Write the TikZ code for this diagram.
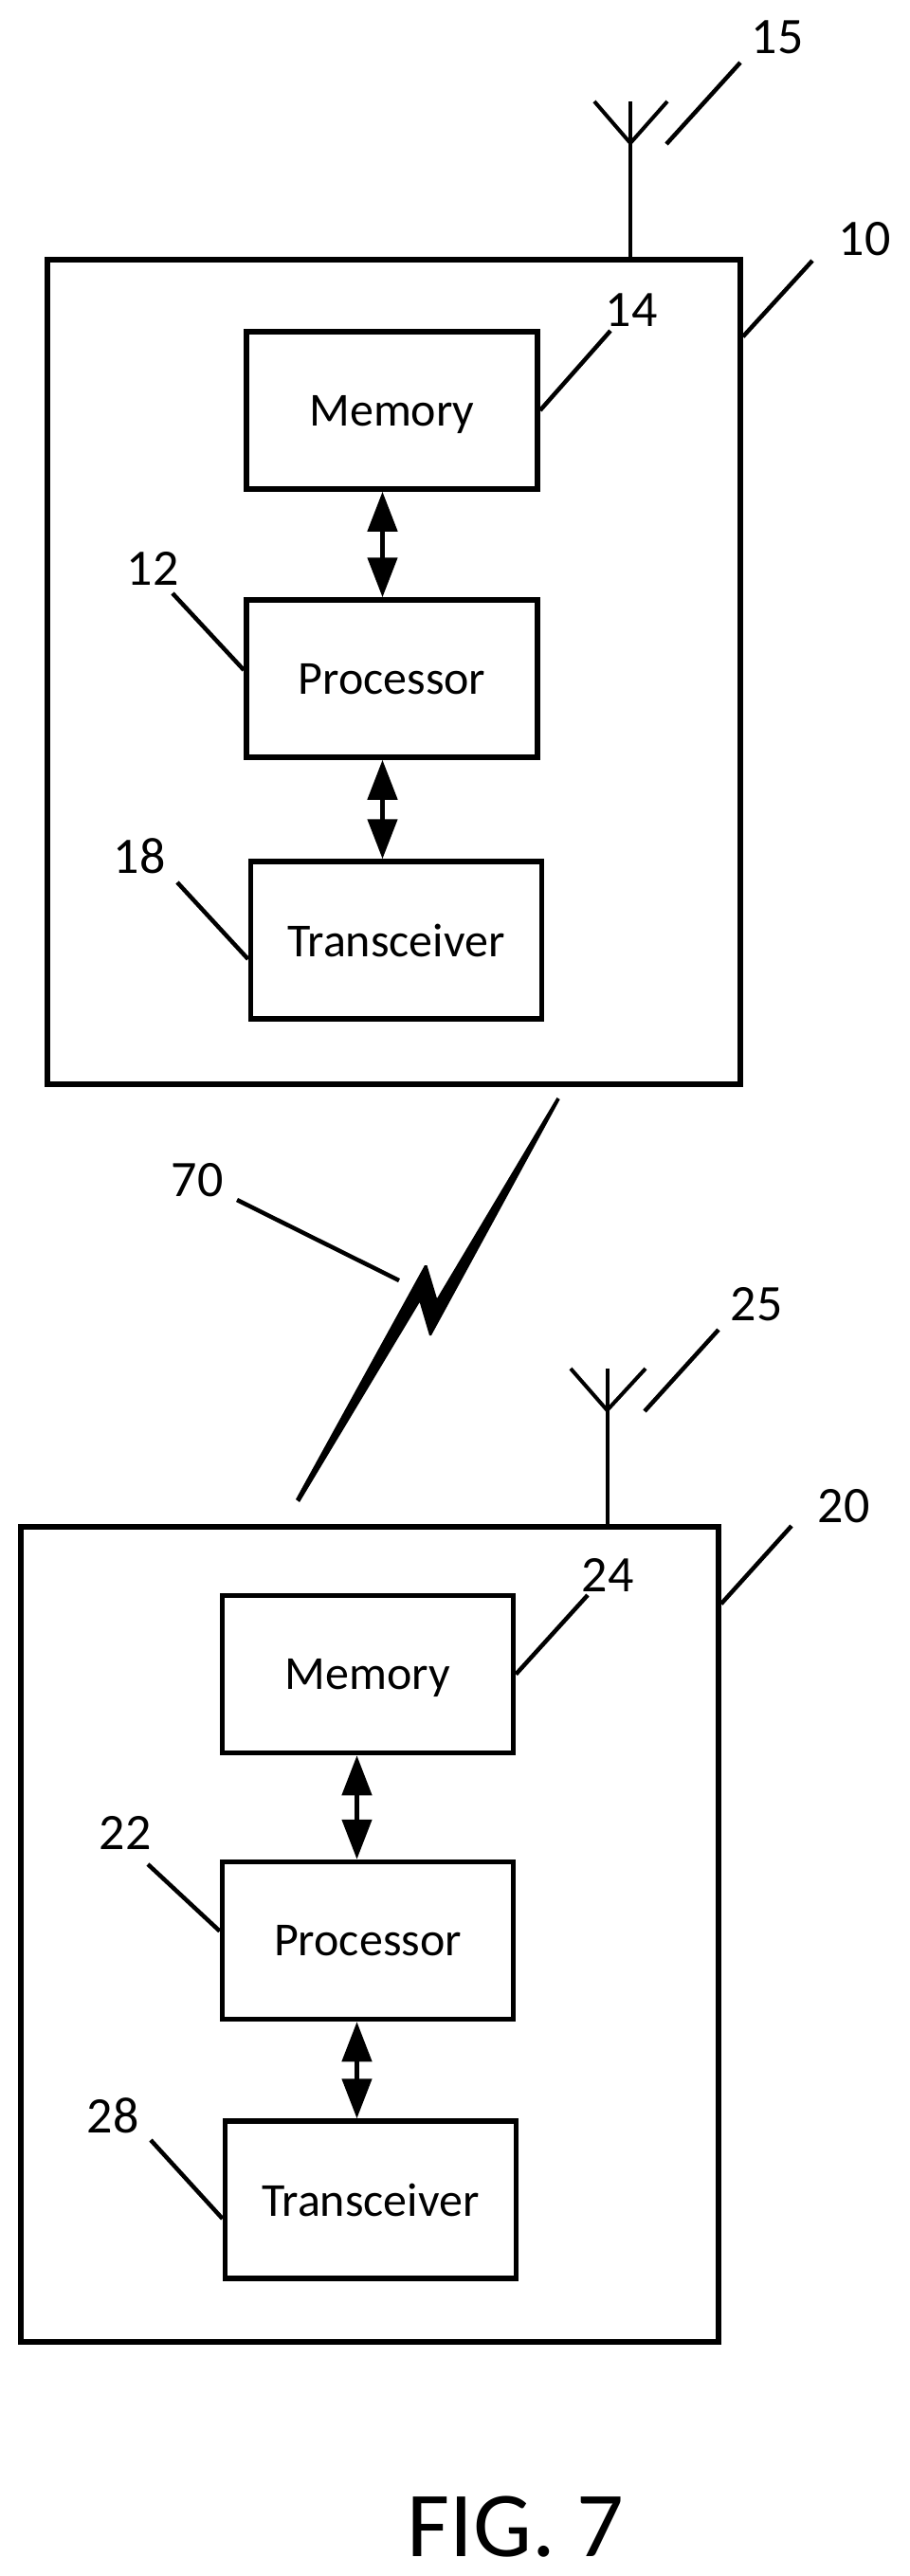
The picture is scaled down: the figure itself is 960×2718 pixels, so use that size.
\documentclass[tikz,border=0pt]{standalone}
\usepackage{fontspec}
\setmainfont{Carlito}
\usepackage{tikz}
\usetikzlibrary{arrows.meta}
\tikzstyle{device} = [rectangle, minimum width = 731, minimum height = 870, inner sep = 0,
  draw = black, line width = 5.5]
\tikzstyle{box} = [rectangle, minimum width = 307, minimum height = 166, inner sep = 0,
  draw = black, line width = 5.5, text centered, text depth = 0,
  font = \fontsize{50}{50}\selectfont]
\tikzstyle{num} = [inner sep = 0, font = \fontsize{54}{54}\selectfont]
\tikzstyle{lead} = [line width = 4.5]
\tikzstyle{mast} = [line width = 4]
\tikzstyle{link} = [{Triangle[length = 42, width = 31]}-{Triangle[length = 42, width = 31]}, line width = 4.7]

\begin{document}
\begin{tikzpicture}[x = 1pt, y = -1pt, node distance = 0]
    \useasboundingbox (0, 0) rectangle (960, 2718);

    % upper device
    \node [device] (dev-1) at (415.5, 709) {};
    \node [box] (mem-1) at (413.5, 433) {Memory};
    \node [box, below of = mem-1, yshift = -283] (proc-1) {Processor};
    \node [box, below of = proc-1, yshift = -276, xshift = 4.5] (trx-1) {Transceiver};

    % lower device
    \node [device, minimum width = 736, minimum height = 860] (dev-2) at (390, 2041) {};
    \node [box] (mem-2) at (388, 1766.5) {Memory};
    \node [box, below of = mem-2, yshift = -281] (proc-2) {Processor};
    \node [box, below of = proc-2, yshift = -273.5, xshift = 3] (trx-2) {Transceiver};

    \node [num] (n-15) at (820, 39) {15};
    \node [num] (n-10) at (912, 252) {10};
    \node [num] (n-14) at (666, 327) {14};
    \node [num] (n-12) at (161, 600) {12};
    \node [num] (n-18) at (147, 903) {18};
    \node [num] (n-70) at (208, 1245) {70};
    \node [num] (n-25) at (798, 1376) {25};
    \node [num] (n-20) at (890, 1589) {20};
    \node [num] (n-24) at (641, 1662) {24};
    \node [num] (n-22) at (132, 1934) {22};
    \node [num] (n-28) at (119, 2232) {28};
    \node [font = \fontsize{98}{98}\selectfont, inner sep = 0] (fig) at (544, 2666) {FIG. 7};

    \draw [link] (403.5, 0 |- mem-1.south) -- (403.5, 0 |- proc-1.north);
    \draw [link] (403.5, 0 |- proc-1.south) -- (403.5, 0 |- trx-1.north);
    \draw [link] (376.5, 0 |- mem-2.south) -- (376.5, 0 |- proc-2.north);
    \draw [link] (376.5, 0 |- proc-2.south) -- (376.5, 0 |- trx-2.north);

    % antennas
    \coordinate (ant-1) at (665, 151);
    \coordinate (ant-2) at (640.5, 1488);
    \draw [mast] (665, 107) -- (665, 0 |- dev-1.north);
    \draw [mast] (627, 107) -- (ant-1) -- (704, 107);
    \draw [mast] (640.5, 1444) -- (640.5, 0 |- dev-2.north);
    \draw [mast] (602, 1444) -- (ant-2) -- (681, 1444);

    % leader lines
    \coordinate (f-15) at (781, 66);
    \coordinate (g-15) at (703, 152);
    \coordinate (f-10) at (857, 275);
    \coordinate (f-14) at (644, 349);
    \coordinate (f-12) at (182, 626);
    \coordinate (f-18) at (187, 931);
    \coordinate (f-70) at (250, 1266);
    \coordinate (g-70) at (421, 1351);
    \coordinate (f-25) at (758, 1403);
    \coordinate (g-25) at (680, 1489);
    \coordinate (f-20) at (835, 1610);
    \coordinate (f-24) at (620, 1683);
    \coordinate (f-22) at (156, 1967);
    \coordinate (f-28) at (159, 2258);
    \draw [lead] (f-15) -- (g-15);
    \draw [lead] (f-10) -- ([yshift = -84] dev-1.north east);
    \draw [lead] (f-14) -- (mem-1.east);
    \draw [lead] (f-12) -- ([yshift = 9] proc-1.west);
    \draw [lead] (f-18) -- ([yshift = -20] trx-1.west);
    \draw [lead] (f-70) -- (g-70);
    \draw [lead] (f-25) -- (g-25);
    \draw [lead] (f-20) -- ([yshift = -84] dev-2.north east);
    \draw [lead] (f-24) -- (mem-2.east);
    \draw [lead] (f-22) -- ([yshift = 10] proc-2.west);
    \draw [lead] (f-28) -- ([yshift = -20] trx-2.west);

    % wireless link
    \fill (312, 1582) -- (448, 1335) -- (450.5, 1335) -- (461, 1370) -- (587.5, 1158) -- (590.7, 1160)
      -- (455, 1409) -- (453, 1409) -- (442.7, 1374) -- (316, 1585) -- cycle;
\end{tikzpicture}
\end{document}
